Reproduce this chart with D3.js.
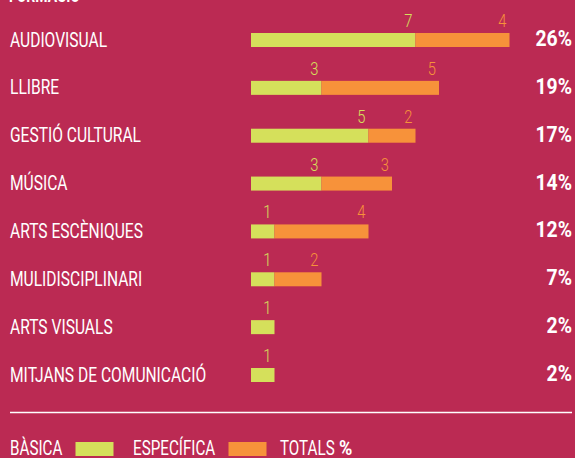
<!DOCTYPE html>
<html>
<head>
<meta charset="utf-8">
<script src="https://cdn.jsdelivr.net/npm/d3@7"></script>
<style>
  html, body { margin: 0; padding: 0; background: #bb2a53; }
  svg { display: block; }
  text { font-family: Roboto, "Liberation Sans", sans-serif; }
</style>
</head>
<body>
<svg id="chart" width="575" height="458"></svg>
<script>
// Àmbits de formació: cursos bàsics i específics, i pes sobre el total
const categories = ["AUDIOVISUAL", "LLIBRE", "GESTIÓ CULTURAL", "MÚSICA", "ARTS ESCÈNIQUES", "MULIDISCIPLINARI", "ARTS VISUALS", "MITJANS DE COMUNICACIÓ"];
const basica = [7, 3, 5, 3, 1, 1, 1, 1];
const especifica = [4, 5, 2, 3, 4, 2, 0, 0];
const totals = [26, 19, 17, 14, 12, 7, 2, 2];
const legendLabels = ["BÀSICA", "ESPECÍFICA", "TOTALS"];

const colors = { bg: "#bb2a53", basica: "#d5e05b", especifica: "#f7923a", text: "#ffffff" };

const W = 575, H = 458;
const svg = d3.select("#chart");
svg.append("rect").attr("width", W).attr("height", H).attr("fill", colors.bg);

const x = d3.scaleLinear().domain([0, 11]).range([251, 509.5]);
const y = d3.scalePoint().domain(categories).range([33, 368]);
const barH = 14;

// condensed look: regular faces squeezed horizontally
const SX = 0.78, SX_NUM = 0.82, SX_BOLD = 0.86;

function label(parent, px, py, sx, txt, opts = {}) {
  const gg = parent.append("g").attr("transform", `translate(${px},${py}) scale(${sx},1)`);
  return gg.append("text")
    .attr("x", 0).attr("y", 0)
    .attr("fill", opts.fill || colors.text)
    .attr("font-size", opts.size || 20)
    .attr("font-weight", opts.weight || 400)
    .attr("text-anchor", opts.anchor || "start")
    .text(txt);
}

const rows = categories.map((c, i) => ({ cat: c, b: basica[i], e: especifica[i], t: totals[i] }));

// títol de secció (queda tallat a la vora superior)
label(svg, 9, 1.5, SX, "FORMACIÓ", { size: 18, weight: 700 });

const g = svg.append("g");

rows.forEach(d => {
  const top = y(d.cat);
  // nom d'àmbit
  label(g, 10, top + 13.5, SX, d.cat, { size: 20 });
  // percentatge total
  label(g, 572, top + 13, SX_BOLD, d.t + "%", { size: 22.5, weight: 700, anchor: "end" });
  // valors sobre les barres
  label(g, x(d.b) - 3, top - 6, SX_NUM, d.b, { size: 18, weight: 300, fill: colors.basica, anchor: "end" });
  if (d.e > 0) {
    label(g, x(d.b + d.e) - 3, top - 6, SX_NUM, d.e, { size: 18, weight: 300, fill: colors.especifica, anchor: "end" });
  }
});

// barres bàsica
g.selectAll("rect.basica").data(rows).join("rect").attr("class", "basica")
  .attr("x", x(0)).attr("y", d => y(d.cat))
  .attr("width", d => x(d.b) - x(0)).attr("height", barH)
  .attr("fill", colors.basica);

// barres específica
g.selectAll("rect.especifica").data(rows.filter(d => d.e > 0)).join("rect").attr("class", "especifica")
  .attr("x", d => x(d.b)).attr("y", d => y(d.cat))
  .attr("width", d => x(d.b + d.e) - x(d.b)).attr("height", barH)
  .attr("fill", colors.especifica);

// separador
svg.append("line").attr("x1", 10).attr("x2", 572).attr("y1", 412.5).attr("y2", 412.5)
  .attr("stroke", colors.text).attr("stroke-width", 1.3);

// llegenda
const lg = svg.append("g");
const ly = 455;
label(lg, 10, ly, SX, legendLabels[0], { size: 19.5 });
lg.append("rect").attr("x", 75.5).attr("y", 442).attr("width", 38).attr("height", 14).attr("fill", colors.basica);
label(lg, 133, ly, SX, legendLabels[1], { size: 19.5 });
lg.append("rect").attr("x", 228.5).attr("y", 442).attr("width", 38).attr("height", 14).attr("fill", colors.especifica);
label(lg, 280, ly, SX, legendLabels[2], { size: 19.5 });
label(lg, 339, ly, SX_BOLD, "%", { size: 21, weight: 700 });
</script>
</body>
</html>
